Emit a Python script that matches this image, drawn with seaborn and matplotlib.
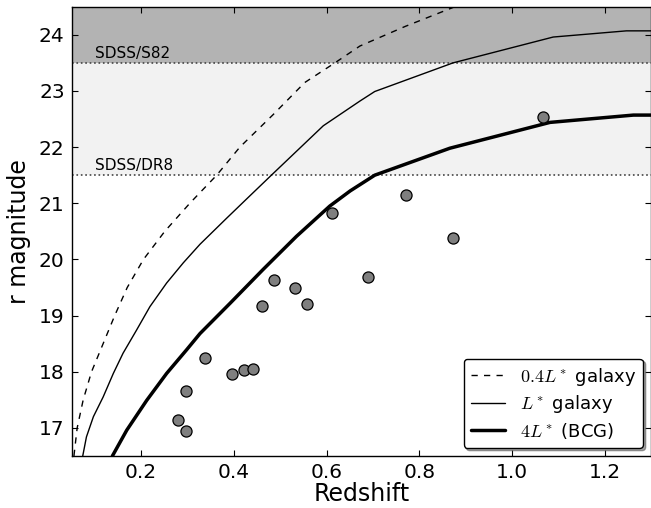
import numpy as np
import pandas as pd
import matplotlib
matplotlib.use("Agg")
import matplotlib.pyplot as plt
import seaborn as sns

# observed clusters (redshift, r magnitude of BCG)
obs_z = [0.280, 0.297, 0.297, 0.338, 0.395, 0.421, 0.442, 0.461, 0.487,
         0.533, 0.558, 0.612, 0.689, 0.771, 0.873, 1.068]
obs_r = [17.14, 16.94, 17.65, 18.24, 17.96, 18.03, 18.05, 19.17, 19.64,
         19.50, 19.21, 20.83, 19.69, 21.14, 20.38, 22.53]

# model tracks
z_04 = [0.055, 0.062, 0.075, 0.093, 0.118, 0.143, 0.170, 0.205, 0.251,
        0.305, 0.363, 0.413, 0.485, 0.553, 0.618, 0.672, 0.770, 0.877]
r_04 = [16.50, 17.00, 17.50, 18.00, 18.50, 19.00, 19.50, 20.00, 20.50,
        21.00, 21.50, 22.00, 22.58, 23.15, 23.50, 23.80, 24.15, 24.50]

z_1 = [0.074, 0.082, 0.097, 0.118, 0.140, 0.161, 0.190, 0.219, 0.255, 0.291,
       0.327, 0.384, 0.428, 0.481, 0.593, 0.672, 0.704, 0.873, 1.089, 1.247, 1.300]
r_1 = [16.50, 16.84, 17.20, 17.55, 17.97, 18.33, 18.74, 19.16, 19.58, 19.94,
       20.27, 20.73, 21.08, 21.50, 22.38, 22.82, 22.99, 23.50, 23.96, 24.07, 24.07]

z_4 = [0.138, 0.169, 0.212, 0.255, 0.298, 0.327, 0.392, 0.463, 0.535,
       0.607, 0.651, 0.704, 0.866, 1.082, 1.262, 1.300]
r_4 = [16.50, 16.96, 17.49, 17.97, 18.39, 18.68, 19.22, 19.82, 20.41,
       20.95, 21.22, 21.50, 21.98, 22.44, 22.57, 22.57]

# survey depth limits
lim_names = ["SDSS/S82", "SDSS/DR8"]
lim_mags = [23.5, 21.5]

sns.set_style("ticks")
plt.rcParams["mathtext.fontset"] = "cm"
plt.rcParams["font.family"] = ["DejaVu Sans"]
for k in ["text.color", "axes.labelcolor", "xtick.color", "ytick.color"]:
    plt.rcParams[k] = "black"

fig = plt.figure(figsize=(6.51, 5.08), dpi=100)
ax = fig.add_axes([0.110, 0.1024, 0.890, 0.8844])

#shaded depth bands
ax.axhspan(23.5, 24.5, color="#b3b3b3", zorder=0, lw=0)
ax.axhspan(21.5, 23.5, color="#f2f2f2", zorder=0, lw=0)
for name, m in zip(lim_names, lim_mags):
    ax.axhline(m, color="#444444", ls=":", lw=1.2, zorder=1)
    ax.text(0.10, m + 0.09, name, fontsize=11, va="baseline", ha="left")

#tracks
tracks = pd.concat([
    pd.DataFrame({"z": z_04, "r": r_04, "model": r"$0.4L^*$ galaxy"}),
    pd.DataFrame({"z": z_1, "r": r_1, "model": r"$L^*$ galaxy"}),
    pd.DataFrame({"z": z_4, "r": r_4, "model": r"$4L^*$ (BCG)"}),
])
styles = {r"$0.4L^*$ galaxy": ((0, (4.5, 4.5)), 1.0),
          r"$L^*$ galaxy": ("-", 1.0),
          r"$4L^*$ (BCG)": ("-", 2.5)}
for name, grp in tracks.groupby("model", sort=False):
    ls, lw = styles[name]
    sns.lineplot(data=grp, x="z", y="r", ax=ax, color="black", ls=ls, lw=lw,
                 sort=False, estimator=None, label=name, zorder=2)

#clusters
sns.scatterplot(x=obs_z, y=obs_r, ax=ax, color="#7f7f7f", edgecolor="black",
                linewidth=0.9, s=64, zorder=3)

ax.set_xlim(0.05, 1.3)
ax.set_ylim(16.5, 24.5)
ax.set_xticks([0.2, 0.4, 0.6, 0.8, 1.0, 1.2])
ax.set_yticks([17, 18, 19, 20, 21, 22, 23, 24])
ax.tick_params(direction="in", top=True, right=True, length=4, width=0.8,
               labelsize=14.5, pad=5)
for sp in ax.spines.values():
    sp.set_color("black")
    sp.set_linewidth(1.0)
ax.set_xlabel("Redshift", fontsize=17, labelpad=0)
ax.set_ylabel("r magnitude", fontsize=17, labelpad=6)

leg = ax.legend(loc="lower right", fontsize=13, fancybox=True, shadow=True,
                borderaxespad=0.45, framealpha=1, handlelength=1.9,
                labelspacing=0.3)
leg.get_frame().set_edgecolor("black")
leg.get_frame().set_linewidth(1.0)

plt.savefig("out.png", dpi=100)
